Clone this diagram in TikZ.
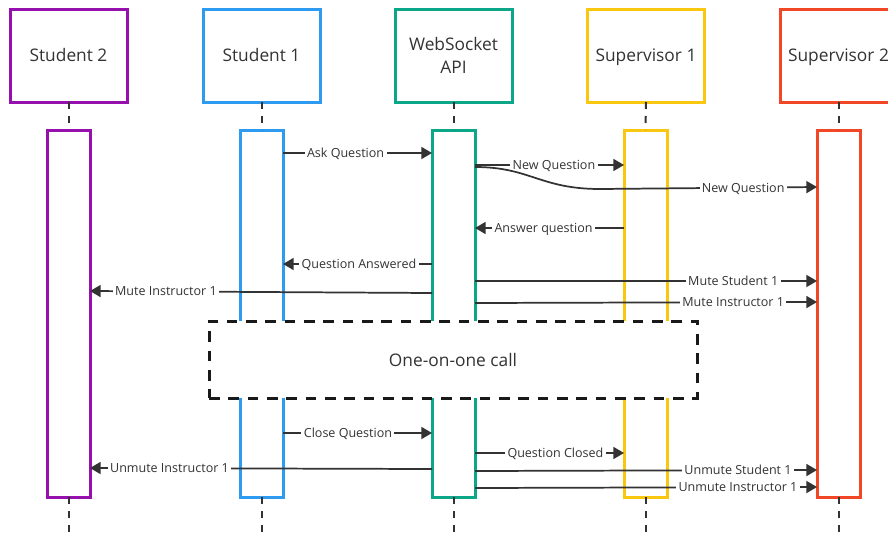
\documentclass[tikz,border=0pt]{standalone}
\usepackage{fontspec}
\setmainfont{Open Sans}
\usetikzlibrary{arrows.meta}
\definecolor{cpurple}{HTML}{9510AC}
\definecolor{cblue}{HTML}{2D9BF0}
\definecolor{cgreen}{HTML}{0CA789}
\definecolor{cyellow}{HTML}{FAC710}
\definecolor{cred}{HTML}{F24726}
\definecolor{ink}{HTML}{333333}
\tikzset{
  head/.style={draw, line width=2.25pt, fill=white, minimum width=87.75pt, minimum height=69.75pt,
    align=center, text=ink, font=\fontsize{13pt}{17pt}\selectfont, inner sep=0pt, outer sep=0pt},
  onehead/.style={head, text height=9.6pt, text depth=0pt},
  act/.style={draw, line width=2.25pt, fill=white, minimum width=32.25pt, minimum height=275.25pt,
    inner sep=0pt, outer sep=0pt},
  life/.style={draw=ink, line width=1.5pt, dash pattern=on 5.25pt off 5.25pt},
  msg/.style={draw=ink, line width=1.3pt, -{Triangle[length=8pt,width=9pt]}},
  lbl/.style={fill=white, text=ink, font=\fontsize{9.4pt}{11pt}\selectfont, inner xsep=1.8pt, inner ysep=1pt,
    text height=7pt, text depth=0.5pt},
  callbox/.style={draw=black!90, line width=2.25pt, dash pattern=on 8pt off 6.5pt, fill=white,
    minimum width=366pt, minimum height=57.75pt, text=ink, font=\fontsize{13pt}{17pt}\selectfont}
}
\begin{document}
\begin{tikzpicture}[x=0.75pt,y=-0.75pt]
\useasboundingbox (0,0) rectangle (888,536);
% headers
\node[onehead, draw=cpurple] (h1) at (68.5,55.5) {Student 2};
\node[onehead, draw=cblue] (h2) at (261.5,55.5) {Student 1};
\node[head, draw=cgreen] (h3) at (453.5,55.5) {WebSocket\\API};
\node[onehead, draw=cyellow] (h4) at (646,55.5) {Supervisor 1};
\node[onehead, draw=cred] (h5) at (838.5,55.5) {Supervisor 2};
% activation boxes
\node[act, draw=cpurple] (a1) at (68.5,313.5) {};
\node[act, draw=cblue] (a2) at (261.5,313.5) {};
\node[act, draw=cgreen] (a3) at (453.5,313.5) {};
\node[act, draw=cyellow] (a4) at (645.5,313.5) {};
\node[act, draw=cred] (a5) at (838.5,313.5) {};
% lifelines
\foreach \i in {1,...,5}{
  \coordinate (e\i) at (a\i.south |- 0,536);
  \path[life] (h\i.south) -- (a\i.north);
  \path[life] (a\i.south) -- (e\i);
}
% messages
\draw[msg] (a2.east |- 0,153) -- node[lbl,pos=0.42]{Ask Question} (a3.west |- 0,153);
\draw[msg] (a3.east |- 0,165) -- node[lbl,pos=0.53]{New Question} (a4.west |- 0,165);
\coordinate (c1) at (600,189);
\draw[msg] (a3.east |- 0,167) .. controls (530,167) and (540,189) .. (c1) -- node[lbl,pos=0.66]{New Question} (a5.west |- 0,187);
\draw[msg] (a4.west |- 0,228) -- node[lbl,pos=0.54]{Answer question} (a3.east |- 0,228);
\draw[msg] (a3.west |- 0,264) -- node[lbl,pos=0.49]{Question Answered} (a2.east |- 0,264);
\draw[msg] (a3.east |- 0,281) -- node[lbl,pos=0.755]{Mute Student 1} (a5.west |- 0,281);
\draw[msg] (a3.east |- 0,303) -- node[lbl,pos=0.755]{Mute Instructor 1} (a5.west |- 0,302);
\draw[msg] (a3.west |- 0,293) -- node[lbl,pos=0.778]{Mute Instructor 1} (a1.east |- 0,291);
% call box
\node[callbox] (call) at (453,359.5) {One-on-one call};
% after call
\draw[msg] (a2.east |- 0,433) -- node[lbl,pos=0.436]{Close Question} (a3.west |- 0,433);
\draw[msg] (a3.east |- 0,453) -- node[lbl,pos=0.54]{Question Closed} (a4.west |- 0,453);
\draw[msg] (a3.west |- 0,469) -- node[lbl,pos=0.7675]{Unmute Instructor 1} (a1.east |- 0,468);
\draw[msg] (a3.east |- 0,471) -- node[lbl,pos=0.769]{Unmute Student 1} (a5.west |- 0,470);
\draw[msg] (a3.east |- 0,488) -- node[lbl,pos=0.769]{Unmute Instructor 1} (a5.west |- 0,487);
\end{tikzpicture}
\end{document}
